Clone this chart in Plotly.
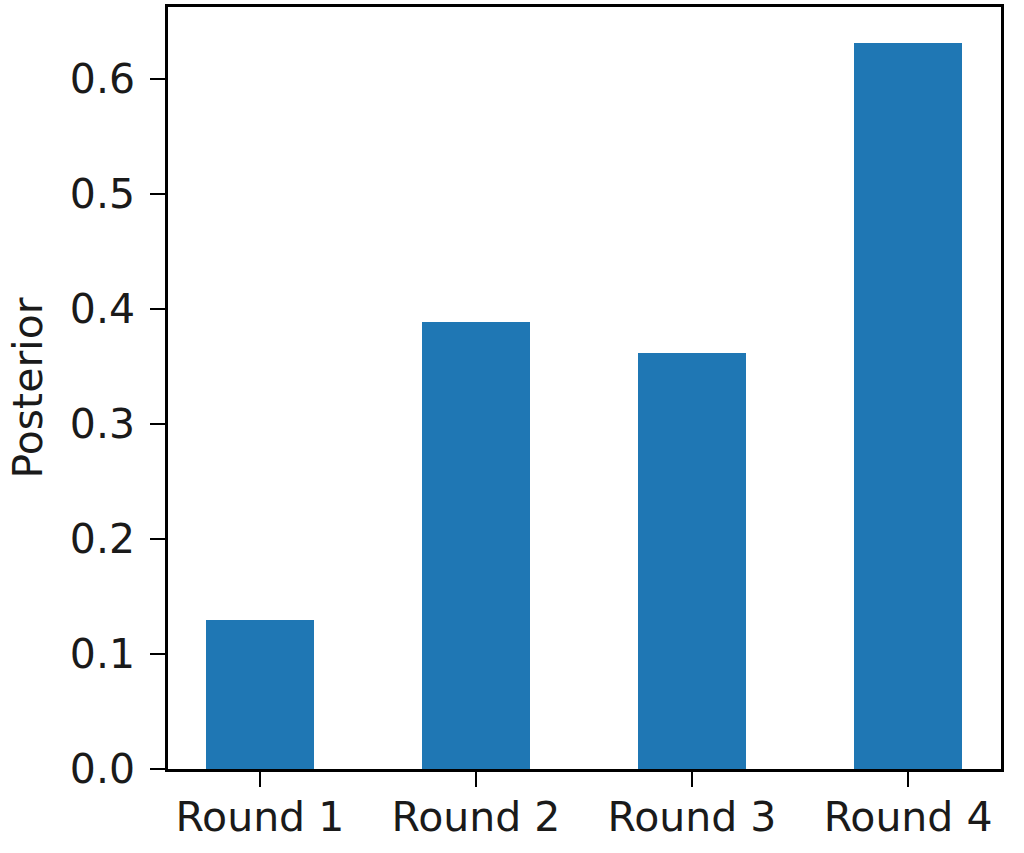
import plotly.graph_objects as go

categories = ["Round 1", "Round 2", "Round 3", "Round 4"]
posterior = [0.130, 0.389, 0.362, 0.631]
y_ticks = [0.0, 0.1, 0.2, 0.3, 0.4, 0.5, 0.6]
y_tick_labels = ["0.0", "0.1", "0.2", "0.3", "0.4", "0.5", "0.6"]

fig = go.Figure(
    go.Bar(
        x=list(range(len(categories))),
        y=posterior,
        width=0.5,
        marker=dict(color="#1f77b4", line=dict(width=0)),
    )
)

font = dict(family="DejaVu Sans", size=41, color="#1a1a1a")

fig.update_layout(
    width=1024,
    height=853,
    margin=dict(l=168, r=23, t=7, b=84),
    paper_bgcolor="white",
    plot_bgcolor="white",
    showlegend=False,
    font=font,
    bargap=0,
)
fig.update_xaxes(
    automargin=False,
    range=[-0.425, 3.43],
    tickmode="array",
    tickvals=list(range(len(categories))),
    ticktext=categories,
    ticks="outside",
    ticklen=15,
    tickwidth=2,
    tickcolor="black",
    showline=True,
    linewidth=2.5,
    linecolor="black",
    mirror=True,
    showgrid=False,
    zeroline=False,
    ticklabelstandoff=-5,
    tickfont=font,
)
fig.update_yaxes(
    automargin=False,
    range=[0, 0.6626],
    tickmode="array",
    tickvals=y_ticks,
    ticktext=y_tick_labels,
    ticks="outside",
    ticklen=15,
    tickwidth=2,
    tickcolor="black",
    showline=True,
    linewidth=2.5,
    linecolor="black",
    mirror=True,
    showgrid=False,
    zeroline=False,
    ticklabelstandoff=7,
    tickfont=font,
    title=dict(text="Posterior", font=font, standoff=15),
)

fig.write_html(
    "out.html",
    config={"displayModeBar": False},
    post_script="document.body.style.margin='0';document.body.style.overflow='hidden';",
)
